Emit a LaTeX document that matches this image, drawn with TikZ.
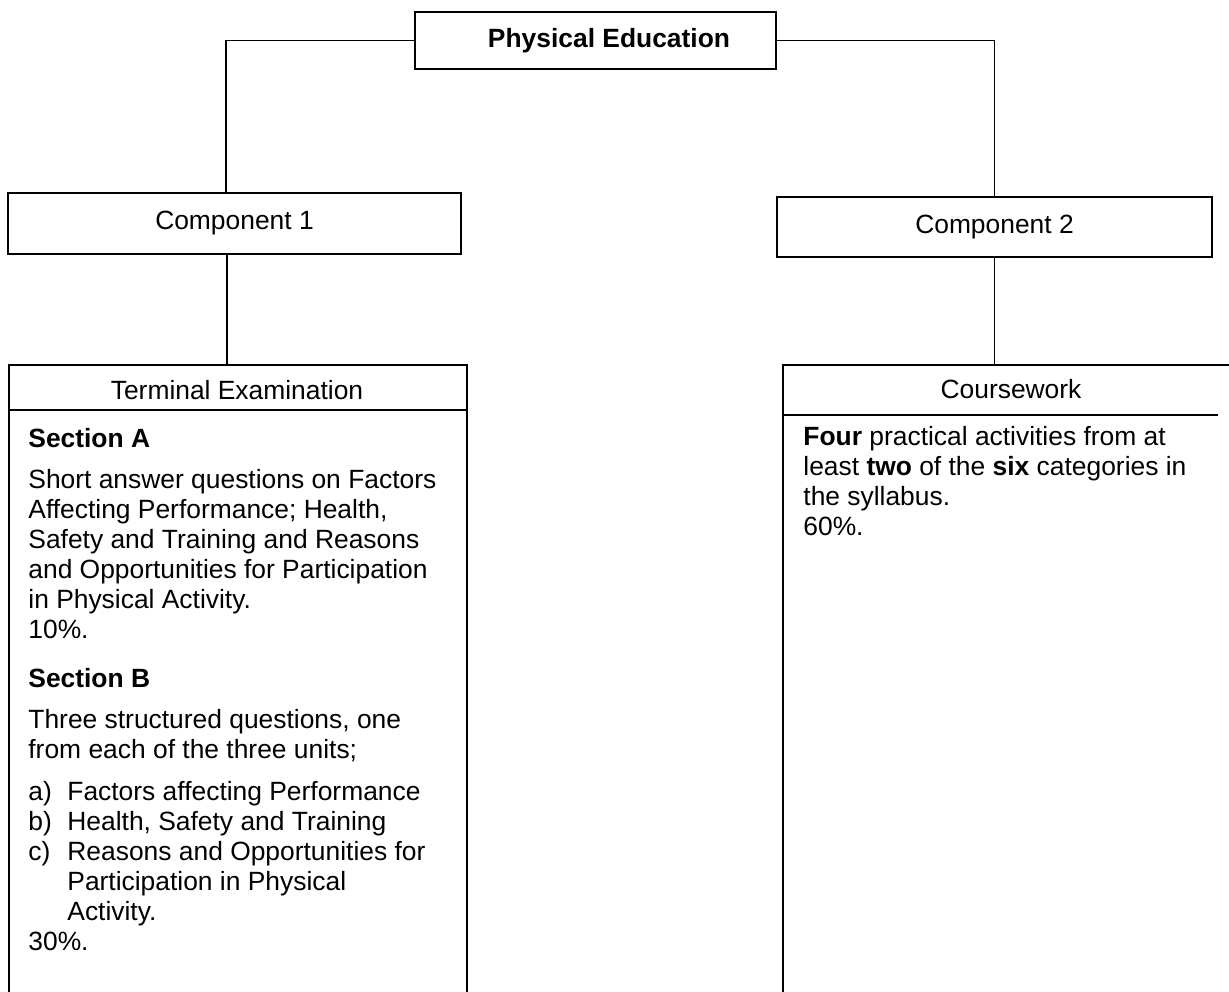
\documentclass[tikz,border=0pt]{standalone}
\usepackage{fontspec}
\setmainfont{Liberation Sans}
\usetikzlibrary{positioning}

\begin{document}
\begin{tikzpicture}[x=0.5pt,y=-0.5pt,
    every node/.style={font=\fontsize{13.2}{15}\selectfont},
    box/.style={draw,line width=1.1pt,inner sep=0pt},
    link/.style={line width=0.9pt},
    body/.style={anchor=north west,inner sep=0pt,align=left}]
  \clip (0,0) rectangle (1229,991);

  % boxes
  \node[box,minimum width=180.5pt,minimum height=28.5pt,font=\fontsize{13.2}{15}\selectfont\bfseries] (pe) at (595.5,40.5) {\hspace*{13.5pt}Physical Education};
  \node[box,minimum width=226.5pt,minimum height=30.5pt] (comp1) at (234.5,223.5) {Component 1};
  \node[box,minimum width=217.5pt,minimum height=30pt] (comp2) at (994.5,227) {Component 2};
  \node[box,anchor=north west,minimum width=229pt,minimum height=330pt] (term) at (8,364) {};
  \node[box,anchor=north west,minimum width=229pt,minimum height=330pt] (cw) at (782,364) {};

  \draw[link] ([yshift=-23pt]term.north west) -- ([yshift=-23pt]term.north east);
  \draw[link] ([yshift=-25.5pt]cw.north west) -- ([yshift=-25.5pt,xshift=218pt]cw.north west);

  % connectors
  \draw[link] (pe.west) -| ([xshift=-4.25pt]comp1.north);
  \draw[link] (pe.east) -| (comp2.north);
  \draw[link] ([xshift=-3.75pt]comp1.south) -- ([xshift=-3.75pt]comp1.south |- term.north);
  \draw[link] (comp2.south) -- (comp2.south |- cw.north);

  % headings
  \node[anchor=base,inner sep=0pt] (termhead) at (237,399) {Terminal Examination};
  \node[anchor=base,inner sep=0pt] (cwhead) at (1011,398) {Coursework};

  % texts
  \node[body] (termbody) at (28,426) {\strut\textbf{Section A}\\[5.5pt]
    Short answer questions on Factors\\
    Affecting Performance; Health,\\
    Safety and Training and Reasons\\
    and Opportunities for Participation\\
    in Physical Activity.\\
    10\%.\\[9.5pt]
    \textbf{Section B}\\[5.5pt]
    Three structured questions, one\\
    from each of the three units;\\[6pt]
    \makebox[19.5pt][l]{a)}Factors affecting Performance\\
    \makebox[19.5pt][l]{b)}Health, Safety and Training\\
    \makebox[19.5pt][l]{c)}Reasons and Opportunities for\\
    \hspace*{19.5pt}Participation in Physical\\
    \hspace*{19.5pt}Activity.\\
    30\%.};
  \node[body] (cwbody) at (803,424) {\strut\textbf{Four} practical activities from at\\
    least \textbf{two} of the \textbf{six} categories in\\
    the syllabus.\\
    60\%.};
\end{tikzpicture}
\end{document}
